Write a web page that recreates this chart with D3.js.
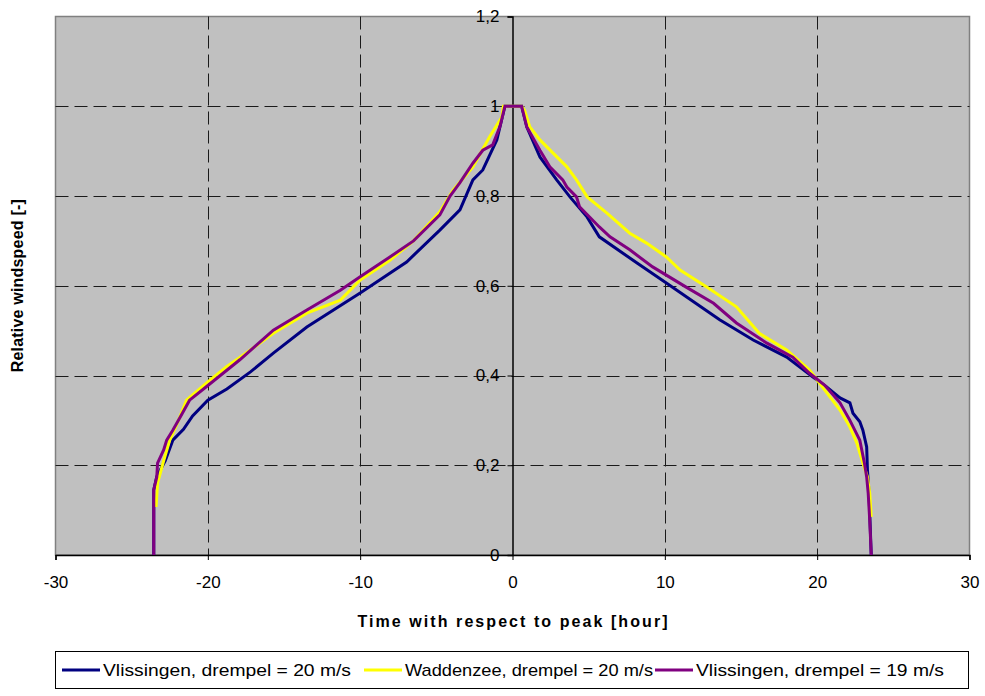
<!DOCTYPE html>
<html>
<head>
<meta charset="utf-8">
<script src="https://cdn.jsdelivr.net/npm/d3@7"></script>
<style>
  html, body { margin: 0; padding: 0; background: #fff; }
  svg { display: block; font-family: "Liberation Sans", Arial, sans-serif; }
</style>
</head>
<body>
<svg id="chart" width="985" height="696"></svg>
<script>
// Relative wind speed profiles around the storm peak
const xTicks = [-30, -20, -10, 0, 10, 20, 30];
const yTicks = [0, 0.2, 0.4, 0.6, 0.8, 1, 1.2];
const yTickLabels = ["0", "0,2", "0,4", "0,6", "0,8", "1", "1,2"];

const seriesNames = [
  "Vlissingen, drempel = 20 m/s",
  "Waddenzee, drempel = 20 m/s",
  "Vlissingen, drempel = 19 m/s"
];
const seriesColors = ["#000080", "#ffff00", "#800080"];

// Vlissingen, threshold 20 m/s
const vlis20Hours = [-23.55, -23.55, -23.35, -22.8, -22.3, -21.6, -21.0, -20.0, -18.75, -17.2, -15.7, -13.5, -10, -6.95, -4.77, -3.45, -2.6, -1.95, -1.03, -0.5, 0.6, 0.94, 1.8, 2.9, 3.77, 4.9, 5.7, 8.2, 10.1, 13.6, 15.8, 18.0, 19.7, 20.6, 21.5, 22.15, 22.35, 22.8, 23.0, 23.25, 23.3, 23.4, 23.55];
const vlis20Speed = [0, 0.145, 0.175, 0.21, 0.256, 0.28, 0.31, 0.345, 0.37, 0.408, 0.45, 0.508, 0.584, 0.653, 0.724, 0.769, 0.836, 0.858, 0.925, 1.0, 1.0, 0.954, 0.887, 0.836, 0.798, 0.753, 0.709, 0.65, 0.606, 0.524, 0.479, 0.441, 0.397, 0.375, 0.35, 0.339, 0.316, 0.297, 0.278, 0.241, 0.19, 0.14, 0];

// Waddenzee, threshold 20 m/s
const wadd20Hours = [-23.4, -23.3, -22.9, -22.5, -22.0, -21.4, -20.1, -18.75, -17.9, -15.7, -13.5, -11.3, -10, -8.05, -6.5, -4.77, -3.9, -2.6, -1.5, -0.7, -0.6, 0.6, 0.8, 1.14, 1.8, 2.65, 3.57, 4.2, 4.9, 6.2, 7.7, 8.8, 10.1, 11.0, 12.75, 14.7, 16.2, 18.0, 19.5, 20.0, 21.5, 22.15, 22.6, 23.0, 23.3, 23.45, 23.55];
const wadd20Speed = [0.107, 0.16, 0.21, 0.256, 0.294, 0.345, 0.383, 0.42, 0.44, 0.494, 0.539, 0.568, 0.613, 0.657, 0.70, 0.765, 0.813, 0.865, 0.932, 0.976, 1.0, 1.0, 0.99, 0.954, 0.925, 0.896, 0.865, 0.836, 0.798, 0.762, 0.717, 0.695, 0.664, 0.635, 0.597, 0.553, 0.494, 0.457, 0.412, 0.39, 0.323, 0.285, 0.25, 0.205, 0.174, 0.138, 0.085];

// Vlissingen, threshold 19 m/s
const vlis19Hours = [-23.55, -23.55, -23.35, -23.3, -22.9, -22.7, -22.3, -21.8, -21.2, -20.1, -19.0, -17.9, -15.7, -13.5, -11.3, -10, -8.05, -6.5, -4.77, -4.1, -3.45, -2.6, -1.95, -1.3, -0.83, -0.5, 0.6, 0.94, 1.8, 2.45, 3.3, 3.57, 4.2, 4.4, 5.7, 6.4, 7.7, 9.2, 11.4, 13.2, 14.7, 16.7, 18.4, 19.5, 20.5, 21.5, 22.15, 22.8, 23.1, 23.25, 23.35, 23.45, 23.55];
const vlis19Speed = [0, 0.145, 0.174, 0.205, 0.234, 0.256, 0.278, 0.308, 0.345, 0.375, 0.405, 0.435, 0.501, 0.546, 0.59, 0.62, 0.664, 0.70, 0.758, 0.80, 0.83, 0.873, 0.902, 0.914, 0.954, 1.0, 1.0, 0.954, 0.902, 0.865, 0.836, 0.82, 0.798, 0.776, 0.731, 0.709, 0.68, 0.642, 0.597, 0.561, 0.517, 0.472, 0.441, 0.405, 0.378, 0.339, 0.30, 0.256, 0.205, 0.174, 0.138, 0.078, 0];

const series = [
  { name: seriesNames[0], color: seriesColors[0], x: vlis20Hours, y: vlis20Speed },
  { name: seriesNames[1], color: seriesColors[1], x: wadd20Hours, y: wadd20Speed },
  { name: seriesNames[2], color: seriesColors[2], x: vlis19Hours, y: vlis19Speed }
];

const plot = { left: 55.5, right: 969.5, top: 16.5, bottom: 555 };

const svg = d3.select("#chart");

const x = d3.scaleLinear().domain([-30, 30]).range([plot.left, plot.right]);
const y = d3.scaleLinear().domain([0, 1.2]).range([plot.bottom, plot.top]);

// plot background
svg.append("rect")
  .attr("x", plot.left).attr("y", plot.top)
  .attr("width", plot.right - plot.left).attr("height", plot.bottom - plot.top)
  .attr("fill", "#c0c0c0")
  .attr("stroke", "#808080").attr("stroke-width", 1.5);

// dashed gridlines
const grid = svg.append("g").attr("stroke", "#1a1a1a").attr("stroke-width", 1)
  .attr("stroke-dasharray", "13,6");
grid.selectAll("line.h").data(yTicks.filter(d => d > 0 && d < 1.2)).join("line")
  .attr("class", "h")
  .attr("x1", plot.left).attr("x2", plot.right)
  .attr("y1", d => Math.round(y(d)) + 0.5).attr("y2", d => Math.round(y(d)) + 0.5);
grid.selectAll("line.v").data(xTicks.filter(d => d !== 0 && Math.abs(d) < 30)).join("line")
  .attr("class", "v")
  .attr("y1", plot.top).attr("y2", plot.bottom)
  .attr("x1", d => Math.round(x(d)) + 0.5).attr("x2", d => Math.round(x(d)) + 0.5);

// x axis along y = 0
const xAxis = d3.axisBottom(x).tickValues(xTicks).tickSize(5).tickPadding(16)
  .tickFormat(d => String(d));
const gx = svg.append("g").attr("transform", `translate(0,${plot.bottom})`).call(xAxis);
gx.select(".domain").attr("stroke", "#000").attr("stroke-width", 1.5);
gx.selectAll(".tick line").attr("stroke", "#000");
gx.selectAll(".tick text").attr("font-size", 17).attr("fill", "#000")
  .attr("font-family", "'Liberation Sans', Arial, sans-serif");

// y axis along x = 0
const yAxis = d3.axisLeft(y).tickValues(yTicks).tickSize(5).tickPadding(8)
  .tickFormat((d, i) => yTickLabels[i]);
const gy = svg.append("g").attr("transform", `translate(${x(0)},0)`).call(yAxis);
gy.select(".domain").attr("stroke", "#000").attr("stroke-width", 1.5);
gy.selectAll(".tick line").attr("stroke", "#000");
gy.selectAll(".tick text").attr("font-size", 17).attr("fill", "#000")
  .attr("font-family", "'Liberation Sans', Arial, sans-serif");

// series lines
const line = d3.line().x(d => x(d[0])).y(d => y(d[1]));
svg.append("g").selectAll("path").data(series).join("path")
  .attr("d", s => line(s.x.map((v, i) => [v, s.y[i]])))
  .attr("fill", "none")
  .attr("stroke", s => s.color)
  .attr("stroke-width", 3)
  .attr("stroke-linejoin", "miter");

// axis titles
svg.append("text")
  .attr("x", x(0)).attr("y", 627)
  .attr("text-anchor", "middle")
  .attr("font-size", 16).attr("font-weight", "bold")
  .attr("textLength", 310).attr("lengthAdjust", "spacing")
  .text("Time with respect to peak [hour]");

svg.append("text")
  .attr("transform", `translate(23,${(plot.top + plot.bottom) / 2}) rotate(-90)`)
  .attr("text-anchor", "middle")
  .attr("font-size", 16).attr("font-weight", "bold")
  .attr("textLength", 173).attr("lengthAdjust", "spacing")
  .text("Relative windspeed [-]");

// legend
const legend = svg.append("g");
legend.append("rect")
  .attr("x", 55.5).attr("y", 651.5).attr("width", 913).attr("height", 37)
  .attr("fill", "#fff").attr("stroke", "#000").attr("stroke-width", 1);
const legendX = [62, 364, 655];
const items = legend.selectAll("g.item").data(series).join("g")
  .attr("class", "item")
  .attr("transform", (d, i) => `translate(${legendX[i]},670)`);
items.append("line")
  .attr("x1", 0).attr("x2", 38).attr("y1", 0).attr("y2", 0)
  .attr("stroke", d => d.color).attr("stroke-width", 3);
items.append("text")
  .attr("x", 41).attr("y", 6)
  .attr("font-size", 17)
  .attr("textLength", 248).attr("lengthAdjust", "spacingAndGlyphs")
  .text(d => d.name);
</script>
</body>
</html>
